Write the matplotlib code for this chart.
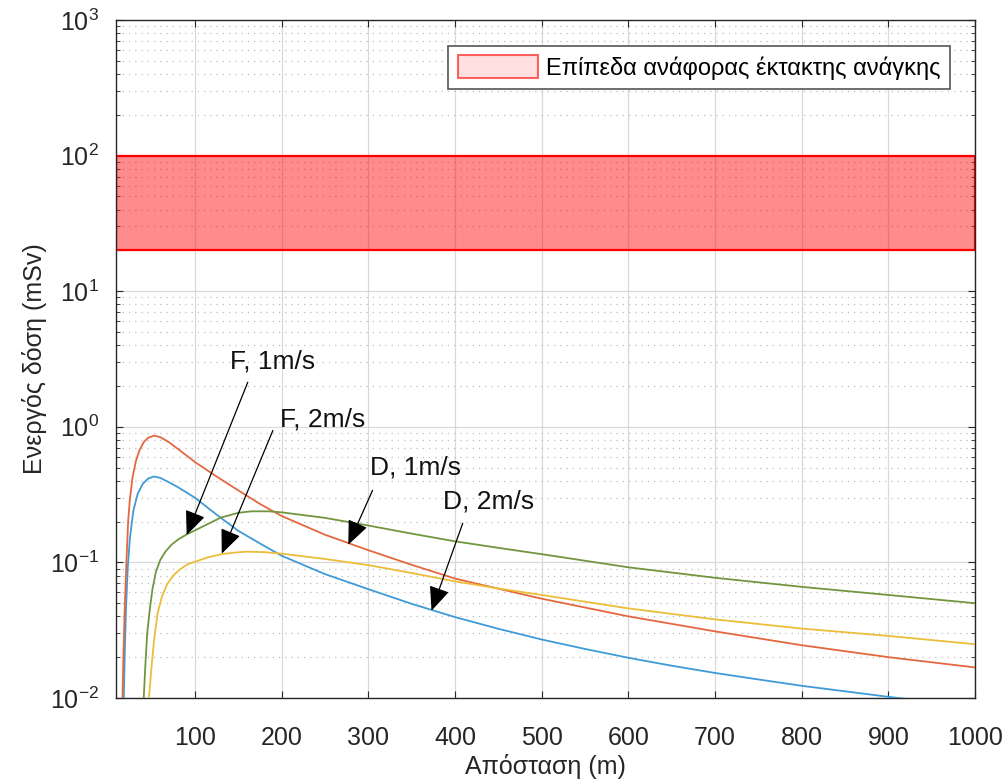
import matplotlib
matplotlib.use("Agg")
import matplotlib.pyplot as plt
from matplotlib.patches import Patch
from matplotlib.ticker import LogLocator, FixedLocator, NullLocator

plt.rcParams["font.family"] = ["Liberation Sans", "DejaVu Sans"]
plt.rcParams["mathtext.fontset"] = "custom"
plt.rcParams["mathtext.rm"] = "Liberation Sans"

# --- data (distance in m, dose in mSv) ---
dist_d1 = [16.5, 17.5, 19, 21, 23, 25, 28, 32, 36, 41, 46, 53, 60, 70, 80,
           100, 125, 150, 175, 200, 250, 300, 350, 400, 450, 500, 600, 700,
           800, 900, 1000]
dose_d1 = [0.01, 0.02, 0.045, 0.1, 0.2, 0.29, 0.42, 0.56, 0.67, 0.77, 0.83,
           0.86, 0.84, 0.77, 0.69, 0.55, 0.43, 0.34, 0.27, 0.22, 0.16, 0.123,
           0.096, 0.076, 0.064, 0.054, 0.040, 0.031, 0.0245, 0.020, 0.0168]

dist_d2 = [18, 19, 20.5, 22.5, 25, 29, 34, 40, 46, 53, 60, 70, 80, 100, 125,
           150, 175, 200, 250, 300, 350, 400, 450, 500, 550, 600, 650, 700,
           750, 800, 850, 900, 1000]
dose_d2 = [0.01, 0.02, 0.045, 0.09, 0.15, 0.24, 0.32, 0.38, 0.415, 0.43,
           0.42, 0.39, 0.36, 0.30, 0.225, 0.171, 0.138, 0.112, 0.082, 0.0635,
           0.0495, 0.0395, 0.0324, 0.027, 0.023, 0.0198, 0.0173, 0.0153,
           0.0137, 0.0123, 0.0112, 0.0102, 0.0086]

dist_f1 = [41, 43, 45, 48, 51, 55, 60, 66, 73, 81, 90, 100, 115, 130, 150,
           165, 185, 200, 250, 300, 350, 400, 450, 500, 600, 700, 800, 900,
           1000]
dose_f1 = [0.01, 0.018, 0.03, 0.045, 0.063, 0.085, 0.104, 0.12, 0.135, 0.148,
           0.16, 0.172, 0.192, 0.214, 0.232, 0.238, 0.238, 0.234, 0.213, 0.187,
           0.163, 0.143, 0.128, 0.115, 0.092, 0.077, 0.066, 0.0575, 0.050]

dist_f2 = [47, 50, 53, 57, 62, 68, 75, 83, 92, 100, 115, 131, 145, 160, 180,
           200, 250, 300, 350, 400, 450, 500, 600, 700, 800, 900, 1000]
dose_f2 = [0.01, 0.017, 0.027, 0.042, 0.056, 0.069, 0.08, 0.089, 0.097, 0.101,
           0.109, 0.115, 0.118, 0.12, 0.119, 0.116, 0.106, 0.0955, 0.0835,
           0.0725, 0.0642, 0.0575, 0.0458, 0.038, 0.0325, 0.0287, 0.0249]

band_low, band_high = 20, 100
band_label = "Επίπεδα ανάφορας έκτακτης ανάγκης"

# annotations: (text, text pos, arrow tail, arrow tip)
notes = [
    ("F, 1m/s", (140, 3.05), (161, 2.13), (90.5, 0.159)),
    ("F, 2m/s", (198, 1.14), (190, 0.94), (131, 0.116)),
    ("D, 1m/s", (302, 0.50), (305, 0.34), (277, 0.135)),
    ("D, 2m/s", (386, 0.28), (409, 0.194), (373, 0.044)),
]

xticks = [100, 200, 300, 400, 500, 600, 700, 800, 900, 1000]

fig = plt.figure(figsize=(10.06, 7.81), dpi=100)
ax = fig.add_axes([0.1153, 0.1063, 0.8539, 0.8681])

ax.axhspan(band_low, band_high, facecolor=(1, 0, 0, 0.45),
           edgecolor="red", linewidth=1.6, zorder=2)

ax.plot(dist_d2, dose_d2, color="#3f9ad8", lw=1.3, zorder=3)
ax.plot(dist_d1, dose_d1, color="#e4683f", lw=1.3, zorder=3)
ax.plot(dist_f2, dose_f2, color="#ecbd3a", lw=1.3, zorder=3)
ax.plot(dist_f1, dose_f1, color="#72963f", lw=1.3, zorder=3)

for label, txt, tail, tip in notes:
    ax.annotate("", xy=tip, xytext=tail,
                arrowprops=dict(arrowstyle="-|>,head_length=0.75,head_width=0.32",
                                mutation_scale=20, color="black", lw=0.9,
                                shrinkA=0, shrinkB=0), zorder=5)
    ax.text(*txt, label, fontsize=19, ha="left", va="center", color="#111111",
            zorder=6)

ax.set_yscale("log")
ax.set_xlim(9, 1000)
ax.set_ylim(1e-2, 1e3)
ax.xaxis.set_major_locator(FixedLocator(xticks))
ax.xaxis.set_minor_locator(NullLocator())
ax.yaxis.set_major_locator(LogLocator(base=10, numticks=10))
ax.yaxis.set_minor_locator(LogLocator(base=10, subs=range(2, 10), numticks=10))

ax.grid(True, which="major", color="#d9d9d9", lw=0.9, zorder=1)
ax.grid(True, which="minor", axis="y", color="#bdbdbd", lw=0.9,
        linestyle=(0, (1, 4)), zorder=1)
ax.set_axisbelow(True)

ax.tick_params(which="both", direction="in", top=True, right=True,
               colors="#262626", labelcolor="#262626")
ax.tick_params(which="major", length=5, labelsize=18)
ax.tick_params(which="minor", length=3)
ax.tick_params(axis="x", pad=20)
ax.tick_params(axis="y", pad=12)
for s in ax.spines.values():
    s.set_color("#262626")
    s.set_linewidth(1.0)

ax.set_xlabel("Απόσταση (m)", fontsize=18, color="#262626", labelpad=3)
ax.set_ylabel("Ενεργός δόση (mSv)", fontsize=18, color="#262626", labelpad=2)

handle = Patch(facecolor=(1, 0, 0, 0.12), edgecolor=(1, 0, 0, 0.6), lw=1.5)
leg = ax.legend([handle], [band_label], loc="upper right",
                bbox_to_anchor=(0.9709, 0.9617), borderaxespad=0,
                fontsize=17, handlelength=3.4, handleheight=1.1,
                handletextpad=0.35, borderpad=0.4, fancybox=False,
                framealpha=1, edgecolor="#555555")
leg.get_frame().set_linewidth(1.2)

fig.savefig("out.png", dpi=100)
